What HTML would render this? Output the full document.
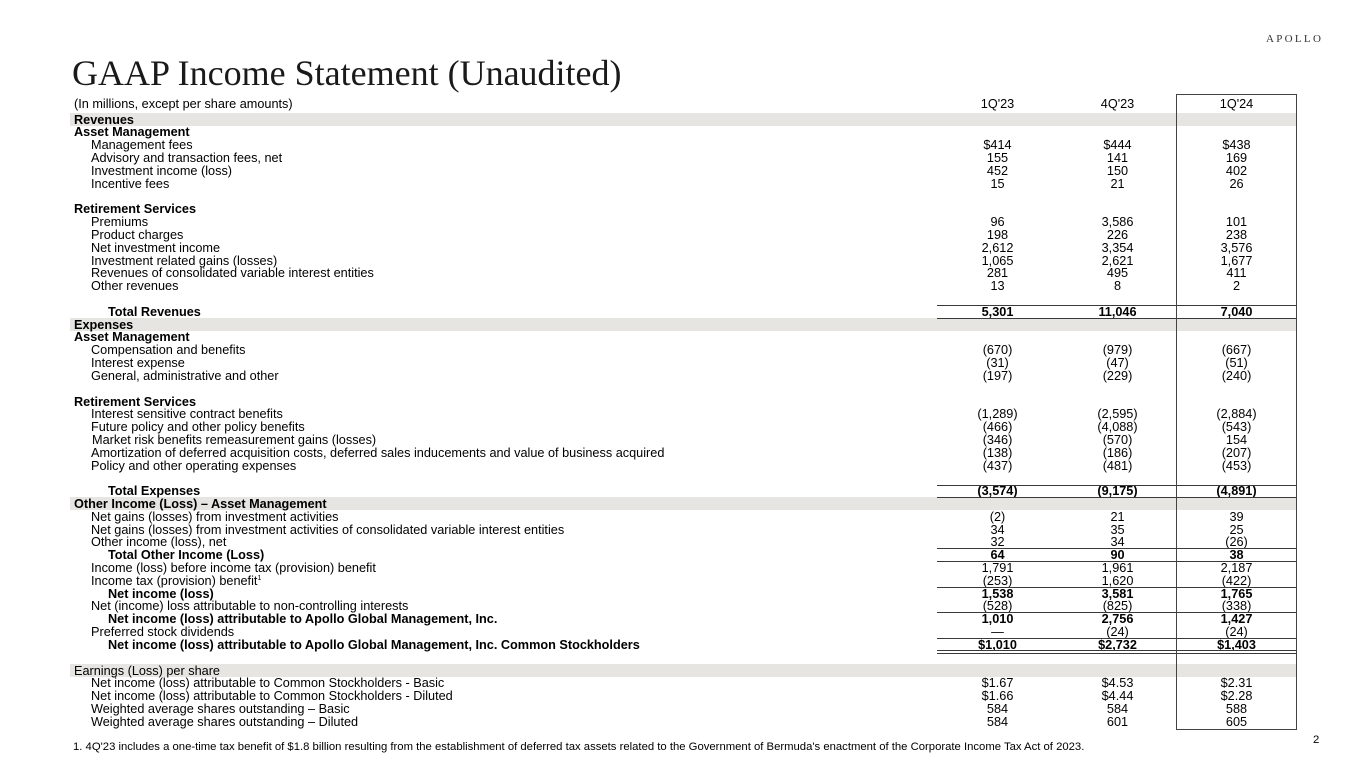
<!DOCTYPE html>
<html><head><meta charset="utf-8">
<style>
html,body{margin:0;padding:0;background:#fff;}
body{width:1365px;height:768px;position:relative;overflow:hidden;font-family:"Liberation Sans",Arial,sans-serif;color:#000;}
.t{position:absolute;left:72px;top:55px;font-family:"Liberation Serif",serif;font-size:36px;line-height:36px;color:#1a1a1a;white-space:nowrap;}
.logo{position:absolute;left:1266px;top:33px;font-family:"Liberation Serif",serif;font-size:11px;line-height:12px;letter-spacing:2.3px;color:#333;}
.band{position:absolute;left:70px;width:1226px;height:12.81px;background:#e6e5e2;}
.r{position:absolute;left:0;width:1365px;height:12.81px;font-size:12.7px;line-height:12.81px;white-space:nowrap;}
.r span{position:absolute;top:0.7px;}
.l0{left:74px;}.l1{left:91px;}.l2{left:108px;}
.c1,.c2,.c3{width:120px;text-align:center;}
.c1{left:937.5px;}.c2{left:1057.5px;}.c3{left:1176.5px;}
.b{font-weight:bold;}
.hl{position:absolute;left:937px;width:359px;height:1px;background:#3a3a3a;}
.box{position:absolute;left:1176px;top:94px;width:119px;height:634px;border:1px solid #444;}
.fn{position:absolute;left:73px;top:740.5px;font-size:11.3px;line-height:13px;white-space:nowrap;}
.pg{position:absolute;left:1313px;top:734px;font-size:11.3px;line-height:13px;}
sup{font-size:7px;line-height:0;vertical-align:5px;}
</style></head><body>
<div class="t">GAAP Income Statement (Unaudited)</div>
<div class="logo">APOLLO</div>

<div class="band" style="top:113px"></div>
<div class="band" style="top:317.96px"></div>
<div class="band" style="top:497.3px"></div>
<div class="band" style="top:663.83px"></div>

<div class="r" style="top:97px"><span class="l0">(In millions, except per share amounts)</span><span class="c1">1Q'23</span><span class="c2">4Q'23</span><span class="c3">1Q'24</span></div>

<div class="r b" style="top:113px"><span class="l0">Revenues</span></div>
<div class="r b" style="top:125.81px"><span class="l0">Asset Management</span></div>
<div class="r" style="top:138.62px"><span class="l1">Management fees</span><span class="c1">$414</span><span class="c2">$444</span><span class="c3">$438</span></div>
<div class="r" style="top:151.43px"><span class="l1">Advisory and transaction fees, net</span><span class="c1">155</span><span class="c2">141</span><span class="c3">169</span></div>
<div class="r" style="top:164.24px"><span class="l1">Investment income (loss)</span><span class="c1">452</span><span class="c2">150</span><span class="c3">402</span></div>
<div class="r" style="top:177.05px"><span class="l1">Incentive fees</span><span class="c1">15</span><span class="c2">21</span><span class="c3">26</span></div>
<div class="r b" style="top:202.67px"><span class="l0">Retirement Services</span></div>
<div class="r" style="top:215.48px"><span class="l1">Premiums</span><span class="c1">96</span><span class="c2">3,586</span><span class="c3">101</span></div>
<div class="r" style="top:228.29px"><span class="l1">Product charges</span><span class="c1">198</span><span class="c2">226</span><span class="c3">238</span></div>
<div class="r" style="top:241.10px"><span class="l1">Net investment income</span><span class="c1">2,612</span><span class="c2">3,354</span><span class="c3">3,576</span></div>
<div class="r" style="top:253.91px"><span class="l1">Investment related gains (losses)</span><span class="c1">1,065</span><span class="c2">2,621</span><span class="c3">1,677</span></div>
<div class="r" style="top:266.72px"><span class="l1">Revenues of consolidated variable interest entities</span><span class="c1">281</span><span class="c2">495</span><span class="c3">411</span></div>
<div class="r" style="top:279.53px"><span class="l1">Other revenues</span><span class="c1">13</span><span class="c2">8</span><span class="c3">2</span></div>
<div class="r b" style="top:305.15px"><span class="l2">Total Revenues</span><span class="c1">5,301</span><span class="c2">11,046</span><span class="c3">7,040</span></div>

<div class="r b" style="top:317.96px"><span class="l0">Expenses</span></div>
<div class="r b" style="top:330.77px"><span class="l0">Asset Management</span></div>
<div class="r" style="top:343.58px"><span class="l1">Compensation and benefits</span><span class="c1">(670)</span><span class="c2">(979)</span><span class="c3">(667)</span></div>
<div class="r" style="top:356.39px"><span class="l1">Interest expense</span><span class="c1">(31)</span><span class="c2">(47)</span><span class="c3">(51)</span></div>
<div class="r" style="top:369.20px"><span class="l1">General, administrative and other</span><span class="c1">(197)</span><span class="c2">(229)</span><span class="c3">(240)</span></div>
<div class="r b" style="top:394.82px"><span class="l0">Retirement Services</span></div>
<div class="r" style="top:407.63px"><span class="l1">Interest sensitive contract benefits</span><span class="c1">(1,289)</span><span class="c2">(2,595)</span><span class="c3">(2,884)</span></div>
<div class="r" style="top:420.44px"><span class="l1">Future policy and other policy benefits</span><span class="c1">(466)</span><span class="c2">(4,088)</span><span class="c3">(543)</span></div>
<div class="r" style="top:433.25px"><span class="l1" style="left:92px">Market risk benefits remeasurement gains (losses)</span><span class="c1">(346)</span><span class="c2">(570)</span><span class="c3">154</span></div>
<div class="r" style="top:446.06px"><span class="l1">Amortization of deferred acquisition costs, deferred sales inducements and value of business acquired</span><span class="c1">(138)</span><span class="c2">(186)</span><span class="c3">(207)</span></div>
<div class="r" style="top:458.87px"><span class="l1">Policy and other operating expenses</span><span class="c1">(437)</span><span class="c2">(481)</span><span class="c3">(453)</span></div>
<div class="r b" style="top:484.49px"><span class="l2">Total Expenses</span><span class="c1">(3,574)</span><span class="c2">(9,175)</span><span class="c3">(4,891)</span></div>

<div class="r b" style="top:497.3px"><span class="l0">Other Income (Loss) – Asset Management</span></div>
<div class="r" style="top:510.11px"><span class="l1">Net gains (losses) from investment activities</span><span class="c1">(2)</span><span class="c2">21</span><span class="c3">39</span></div>
<div class="r" style="top:522.92px"><span class="l1">Net gains (losses) from investment activities of consolidated variable interest entities</span><span class="c1">34</span><span class="c2">35</span><span class="c3">25</span></div>
<div class="r" style="top:535.73px"><span class="l1">Other income (loss), net</span><span class="c1">32</span><span class="c2">34</span><span class="c3">(26)</span></div>
<div class="r b" style="top:548.54px"><span class="l2">Total Other Income (Loss)</span><span class="c1">64</span><span class="c2">90</span><span class="c3">38</span></div>
<div class="r" style="top:561.35px"><span class="l1">Income (loss) before income tax (provision) benefit</span><span class="c1">1,791</span><span class="c2">1,961</span><span class="c3">2,187</span></div>
<div class="r" style="top:574.16px"><span class="l1">Income tax (provision) benefit<sup>1</sup></span><span class="c1">(253)</span><span class="c2">1,620</span><span class="c3">(422)</span></div>
<div class="r b" style="top:586.97px"><span class="l2">Net income (loss)</span><span class="c1">1,538</span><span class="c2">3,581</span><span class="c3">1,765</span></div>
<div class="r" style="top:599.78px"><span class="l1">Net (income) loss attributable to non-controlling interests</span><span class="c1">(528)</span><span class="c2">(825)</span><span class="c3">(338)</span></div>
<div class="r b" style="top:612.59px"><span class="l2">Net income (loss) attributable to Apollo Global Management, Inc.</span><span class="c1">1,010</span><span class="c2">2,756</span><span class="c3">1,427</span></div>
<div class="r" style="top:625.40px"><span class="l1">Preferred stock dividends</span><span class="c1">—</span><span class="c2">(24)</span><span class="c3">(24)</span></div>
<div class="r b" style="top:638.21px"><span class="l2">Net income (loss) attributable to Apollo Global Management, Inc. Common Stockholders</span><span class="c1">$1,010</span><span class="c2">$2,732</span><span class="c3">$1,403</span></div>

<div class="r" style="top:663.83px"><span class="l0">Earnings (Loss) per share</span></div>
<div class="r" style="top:676.64px"><span class="l1">Net income (loss) attributable to Common Stockholders - Basic</span><span class="c1">$1.67</span><span class="c2">$4.53</span><span class="c3">$2.31</span></div>
<div class="r" style="top:689.45px"><span class="l1">Net income (loss) attributable to Common Stockholders - Diluted</span><span class="c1">$1.66</span><span class="c2">$4.44</span><span class="c3">$2.28</span></div>
<div class="r" style="top:702.26px"><span class="l1">Weighted average shares outstanding – Basic</span><span class="c1">584</span><span class="c2">584</span><span class="c3">588</span></div>
<div class="r" style="top:715.07px"><span class="l1">Weighted average shares outstanding – Diluted</span><span class="c1">584</span><span class="c2">601</span><span class="c3">605</span></div>

<div class="hl" style="top:305px"></div>
<div class="hl" style="top:318px"></div>
<div class="hl" style="top:484.5px"></div>
<div class="hl" style="top:497px"></div>
<div class="hl" style="top:548.3px"></div>
<div class="hl" style="top:561px"></div>
<div class="hl" style="top:587px"></div>
<div class="hl" style="top:612.3px"></div>
<div class="hl" style="top:637.7px"></div>
<div class="hl" style="top:650px"></div>
<div class="hl" style="top:652.5px"></div>

<div class="box"></div>

<div class="fn">1. 4Q'23 includes a one-time tax benefit of $1.8 billion resulting from the establishment of deferred tax assets related to the Government of Bermuda's enactment of the Corporate Income Tax Act of 2023.</div>
<div class="pg">2</div>
</body></html>
